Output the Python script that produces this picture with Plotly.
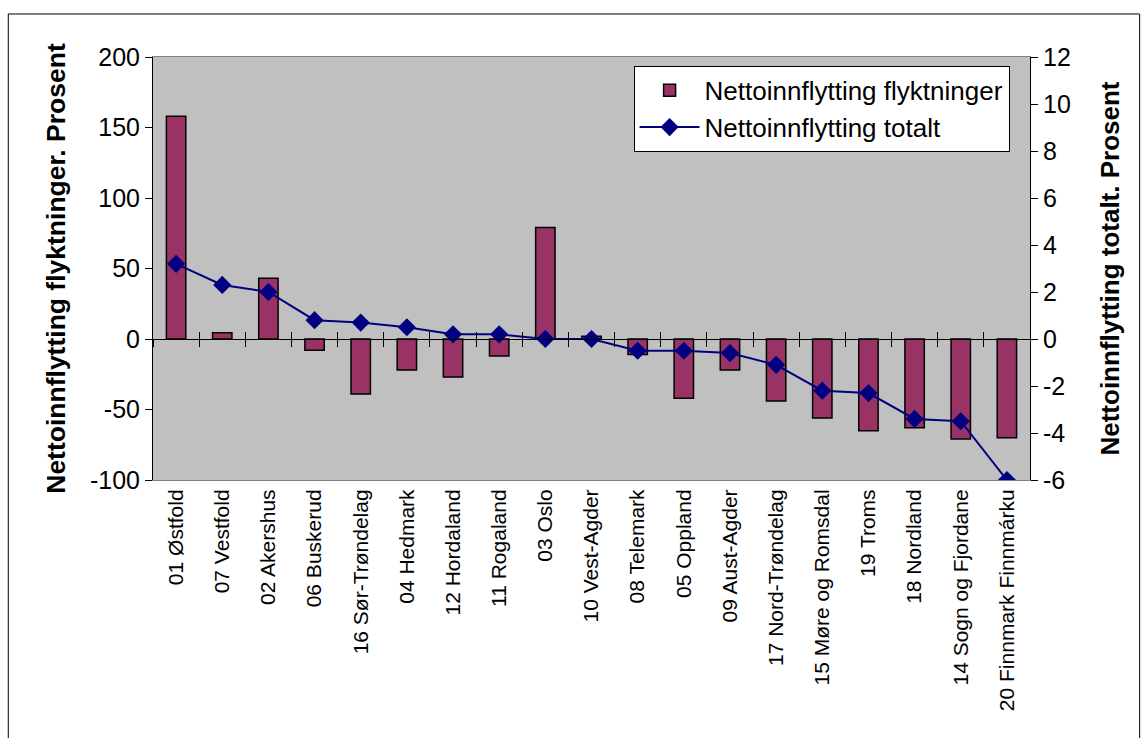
import plotly.graph_objects as go

categories = ["01 Østfold", "07 Vestfold", "02 Akershus", "06 Buskerud", "16 Sør-Trøndelag",
              "04 Hedmark", "12 Hordaland", "11 Rogaland", "03 Oslo", "10 Vest-Agder",
              "08 Telemark", "05 Oppland", "09 Aust-Agder", "17 Nord-Trøndelag",
              "15 Møre og Romsdal", "19 Troms", "18 Nordland", "14 Sogn og Fjordane",
              "20 Finnmark Finnmárku"]
flyktninger = [158, 4.5, 43, -8, -39, -22, -27, -12, 79, 2, -11, -42, -22, -44, -56, -65, -63, -71, -70]
totalt = [3.2, 2.3, 2.0, 0.8, 0.7, 0.5, 0.2, 0.2, 0.0, 0.0, -0.5, -0.5, -0.6, -1.1, -2.2, -2.3, -3.4, -3.5, -6.0]

y_left_ticks = [-100, -50, 0, 50, 100, 150, 200]
y_left_labels = ["-100", "-50", "0", "50", "100", "150", "200"]
y_right_ticks = [-6, -4, -2, 0, 2, 4, 6, 8, 10, 12]
y_right_labels = ["-6", "-4", "-2", "0", "2", "4", "6", "8", "10", "12"]

FONT = "Arial, Liberation Sans, sans-serif"

fig = go.Figure()
fig.add_trace(go.Bar(
    x=categories, y=flyktninger, name="Nettoinnflytting flyktninger",
    marker=dict(color="#993366", line=dict(color="black", width=1.5)),
    width=0.42, yaxis="y"))
fig.add_trace(go.Scatter(
    x=categories, y=totalt, name="Nettoinnflytting totalt", mode="lines+markers",
    line=dict(color="#000080", width=2),
    marker=dict(symbol="diamond", size=14, color="#000080"),
    yaxis="y2"))

fig.update_layout(
    width=1141, height=738,
    margin=dict(l=153, r=111, t=57, b=258),
    paper_bgcolor="white", plot_bgcolor="#C0C0C0",
    font=dict(family=FONT, color="black", size=17),
    showlegend=True,
    legend=dict(x=0.548, y=0.979, xanchor="left", yanchor="top",
                bgcolor="white", bordercolor="black", borderwidth=1,
                font=dict(size=26, family=FONT), tracegroupgap=0,
                itemwidth=60),
    xaxis=dict(type="category", tickangle=-90, showgrid=False, ticks="",
               tickfont=dict(size=21, family=FONT), showline=True,
               linecolor="#808080", linewidth=1, mirror=True,
               zeroline=False, range=[-0.5, len(categories) - 0.5]),
    xaxis2=dict(type="category", overlaying="x", anchor="free", position=1/3,
                matches="x", showticklabels=False, ticks="outside", ticklen=7,
                tickson="boundaries", tickcolor="black", showline=True,
                linecolor="black", linewidth=1.2, showgrid=False,
                range=[-0.5, len(categories) - 0.5]),
    xaxis3=dict(type="category", overlaying="x", anchor="free", position=1/3,
                matches="x", showticklabels=False, ticks="inside", ticklen=7,
                tickson="boundaries", tickcolor="black", showline=False,
                showgrid=False, range=[-0.5, len(categories) - 0.5]),
    yaxis=dict(range=[-100, 200], tickvals=y_left_ticks, ticktext=y_left_labels,
               showgrid=False, zeroline=False,
               ticks="outside", ticklen=7, tickcolor="black", showline=True,
               linecolor="black", linewidth=1,
               tickfont=dict(size=25, family=FONT),
               title=dict(text="<b>Nettoinnflytting flyktninger. Prosent</b>",
                          font=dict(size=26.5, family=FONT), standoff=16)),
    yaxis2=dict(range=[-6, 12], tickvals=y_right_ticks, ticktext=y_right_labels,
                overlaying="y", side="right",
                showgrid=False, zeroline=False, ticks="outside", ticklen=7,
                tickcolor="black", showline=True, linecolor="black", linewidth=1,
                tickfont=dict(size=25, family=FONT),
                title=dict(text="<b>Nettoinnflytting totalt. Prosent</b>",
                           font=dict(size=26, family=FONT), standoff=30)),
    shapes=[dict(type="rect", xref="paper", yref="paper",
                 x0=-0.165, x1=1.125, y0=-0.64, y1=1.1017,
                 line=dict(color="black", width=1), fillcolor="rgba(0,0,0,0)",
                 layer="below")],
)

# helper traces to activate overlay x axes (tick marks on the zero line)
fig.add_trace(go.Scatter(x=categories, y=[None]*len(categories), xaxis="x2", yaxis="y",
                         showlegend=False, hoverinfo="skip"))
fig.add_trace(go.Scatter(x=categories, y=[None]*len(categories), xaxis="x3", yaxis="y",
                         showlegend=False, hoverinfo="skip"))

fig.write_html("out.html", config={"displayModeBar": False},
               post_script="document.body.style.margin='0';document.body.style.overflow='hidden';")
